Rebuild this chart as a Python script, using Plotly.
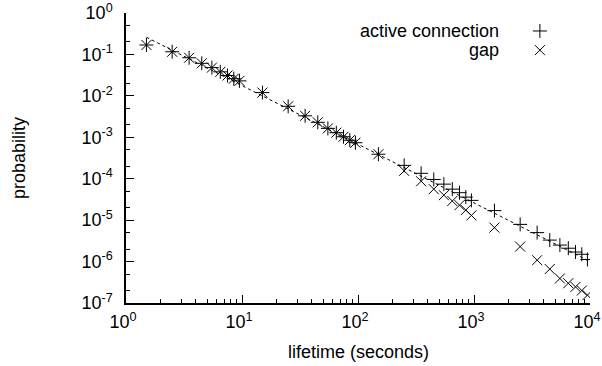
import plotly.graph_objects as go

# bin centres (seconds)
lifetime = [1.5, 2.5, 3.5, 4.5, 5.5, 6.5, 7.5, 8.5, 9.5,
            15, 25, 35, 45, 55, 65, 75, 85, 95,
            150, 250, 350, 450, 550, 650, 750, 850, 950,
            1500, 2500, 3500, 4500, 5500, 6500, 7500, 8500, 9500]

active_prob = [0.169, 0.116, 0.083, 0.061, 0.048, 0.038, 0.031, 0.026, 0.023,
               0.012, 0.0056, 0.0033, 0.0023, 0.00164, 0.00129, 0.00103, 0.00085, 0.00074,
               3.9e-4, 2.1e-4, 1.35e-4, 9.6e-5, 7.4e-5, 5.6e-5, 4.6e-5, 3.6e-5, 3.0e-5,
               1.7e-5, 7.9e-6, 5.0e-6, 3.3e-6, 2.5e-6, 2.1e-6, 1.7e-6, 1.5e-6, 1.12e-6]

gap_prob = [0.169, 0.116, 0.083, 0.061, 0.048, 0.038, 0.031, 0.026, 0.023,
            0.012, 0.0056, 0.0033, 0.0023, 0.00164, 0.00129, 0.00103, 0.00085, 0.00074,
            3.9e-4, 1.55e-4, 8.7e-5, 5.6e-5, 4.0e-5, 2.9e-5, 2.3e-5, 1.75e-5, 1.3e-5,
            6.6e-6, 2.3e-6, 1.08e-6, 6.6e-7, 3.9e-7, 3.0e-7, 2.45e-7, 2.0e-7, 1.55e-7]

fit_x = [1.5, 10000]
fit_y = [0.26, 1.0e-6]

x_tickvals = [1, 10, 100, 1000, 10000]
x_ticktext = ["10<sup>0</sup>", "10<sup>1</sup>", "10<sup>2</sup>", "10<sup>3</sup>", "10<sup>4</sup>"]
y_tickvals = [1e0, 1e-1, 1e-2, 1e-3, 1e-4, 1e-5, 1e-6, 1e-7]
y_ticktext = ["10<sup>0</sup>", "10<sup>-1</sup>", "10<sup>-2</sup>", "10<sup>-3</sup>",
              "10<sup>-4</sup>", "10<sup>-5</sup>", "10<sup>-6</sup>", "10<sup>-7</sup>"]

legend_names = ["active connection", "gap"]

x_minor = [m * 10 ** e for e in range(0, 4) for m in range(2, 10)]
y_minor = [m * 10 ** e for e in range(-7, 0) for m in (2, 5)]

FONT = "Liberation Sans, Arial, Helvetica, sans-serif"
INK = "black"
FS = 18

fig = go.Figure()
fig.add_trace(go.Scatter(x=fit_x, y=fit_y, mode="lines",
                         line=dict(color=INK, width=1, dash="3px,3px"),
                         showlegend=False, hoverinfo="skip"))
fig.add_trace(go.Scatter(x=lifetime, y=active_prob, mode="markers",
                         marker=dict(symbol="cross-thin-open", size=10, color=INK,
                                     line=dict(color=INK, width=1)),
                         name=legend_names[0], showlegend=False))
fig.add_trace(go.Scatter(x=lifetime, y=gap_prob, mode="markers",
                         marker=dict(symbol="x-thin-open", size=10, color=INK,
                                     line=dict(color=INK, width=1)),
                         name=legend_names[1], showlegend=False))

# legend keys on an overlay axis (gnuplot style: label then symbol)
key_y = [0.938, 0.872]
fig.add_trace(go.Scatter(x=[0.892, 0.892], y=key_y, mode="markers",
                         xaxis="x2", yaxis="y2",
                         marker=dict(symbol=["cross-thin-open", "x-thin-open"], size=10,
                                     color=INK, line=dict(color=INK, width=1)),
                         showlegend=False, hoverinfo="skip"))
for i, name in enumerate(legend_names):
    fig.add_annotation(x=0.808, y=key_y[i], xref="x2", yref="y2",
                       text=name, showarrow=False, xanchor="right", yanchor="middle",
                       font=dict(family=FONT, size=FS, color=INK))

fig.add_annotation(x=(19 - 126) / 464, y=0.5, xref="paper", yref="paper",
                   text="probability", textangle=-90, showarrow=False,
                   xanchor="center", yanchor="middle",
                   font=dict(family=FONT, size=FS, color=INK))
fig.add_annotation(x=0.5, y=(303 - 352) / 290, xref="paper", yref="paper",
                   text="lifetime (seconds)", showarrow=False,
                   xanchor="center", yanchor="middle",
                   font=dict(family=FONT, size=FS, color=INK))

fig.update_layout(
    width=602, height=366,
    margin=dict(l=126, r=12, t=13, b=63, autoexpand=False),
    paper_bgcolor="white", plot_bgcolor="white",
    font=dict(family=FONT, size=FS, color=INK),
    showlegend=False,
    xaxis=dict(type="log", range=[0, 4], tickmode="array",
               tickvals=x_tickvals, ticktext=x_ticktext,
               ticks="inside", ticklen=8, tickwidth=1, tickcolor=INK,
               minor=dict(tickmode="array", tickvals=x_minor, ticks="inside",
                          ticklen=4, tickwidth=1, tickcolor=INK, showgrid=False),
               showline=True, linecolor=INK, linewidth=1.5, mirror=False,
               showgrid=False, zeroline=False, ticklabelstandoff=2,
               ticklabelshift=-3,
               ticklabeloverflow="allow", automargin=False,
               tickfont=dict(family=FONT, size=FS, color=INK)),
    yaxis=dict(type="log", range=[-7, 0], tickmode="array",
               tickvals=y_tickvals, ticktext=y_ticktext,
               ticks="inside", ticklen=8, tickwidth=1, tickcolor=INK,
               minor=dict(tickmode="array", tickvals=y_minor, ticks="inside",
                          ticklen=4, tickwidth=1, tickcolor=INK, showgrid=False),
               showline=True, linecolor=INK, linewidth=1.5, mirror=False,
               showgrid=False, zeroline=False, ticklabelstandoff=8,
               ticklabeloverflow="allow", automargin=False,
               tickfont=dict(family=FONT, size=FS, color=INK)),
    xaxis2=dict(overlaying="x", range=[0, 1], visible=False, fixedrange=True),
    yaxis2=dict(overlaying="y", range=[0, 1], visible=False, fixedrange=True),
)

fig.write_html("out.html")
